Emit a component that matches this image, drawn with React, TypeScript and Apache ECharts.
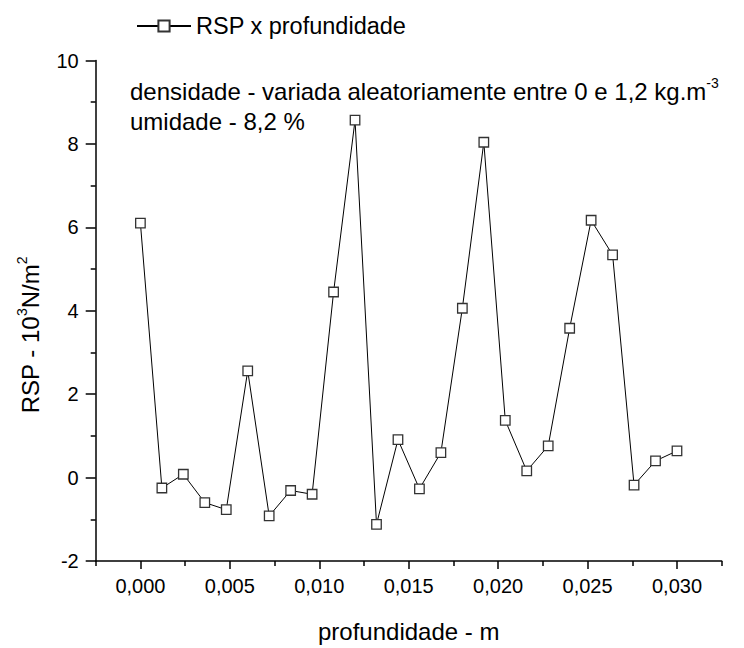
import React, { useEffect, useRef } from "react";
import * as echarts from "echarts";

// Depth (m) and RSP (10^3 N/m^2) readings
const depth = [
  0.0, 0.0012, 0.0024, 0.0036, 0.0048, 0.006, 0.0072, 0.0084, 0.0096, 0.0108,
  0.012, 0.0132, 0.0144, 0.0156, 0.0168, 0.018, 0.0192, 0.0204, 0.0216, 0.0228,
  0.024, 0.0252, 0.0264, 0.0276, 0.0288, 0.03,
];
const rsp = [
  6.1, -0.25, 0.08, -0.6, -0.77, 2.56, -0.92, -0.31, -0.4, 4.45,
  8.57, -1.12, 0.91, -0.27, 0.6, 4.06, 8.04, 1.37, 0.16, 0.76,
  3.58, 6.17, 5.34, -0.18, 0.4, 0.64,
];

const seriesName = "RSP x profundidade";
const xTitle = "profundidade - m";
const noteDensity = "densidade - variada aleatoriamente entre 0 e 1,2 kg.m";
const noteDensityExp = "-3";
const noteHumidity = "umidade - 8,2 %";

// Axis ticks
const xMajorTicks = [0, 0.005, 0.01, 0.015, 0.02, 0.025, 0.03];
const xMinorTicks = [-0.0025, 0.0025, 0.0075, 0.0125, 0.0175, 0.0225, 0.0275, 0.0325];
const xMin = -0.0025;
const xMax = 0.0325;
const yMin = -2;
const yMax = 10;
const yStep = 2;

const FONT = "'Liberation Sans', Arial, Helvetica, sans-serif";

export default function App() {
  const ref = useRef<HTMLDivElement>(null);

  useEffect(() => {
    if (!ref.current) return;
    const chart = echarts.init(ref.current, undefined, { renderer: "svg" });

    const grid = { left: 95.7, right: 22.3, top: 60.5, bottom: 75.7 };
    const axisLine = { show: true, onZero: false, lineStyle: { color: "#000", width: 1.5 } };
    const tickLine = { color: "#000", width: 1.5 };

    chart.setOption({
      animation: false,
      backgroundColor: "#fff",
      textStyle: { fontFamily: FONT },
      grid,
      legend: {
        data: [seriesName],
        left: 131,
        top: 9,
        itemWidth: 54,
        itemHeight: 14,
        textStyle: { fontSize: 23.5, color: "#000", fontFamily: FONT },
      },
      xAxis: [
        {
          type: "value",
          position: "bottom",
          min: xMin,
          max: xMax,
          axisLine,
          splitLine: { show: false },
          axisTick: { show: true, length: 8, customValues: xMajorTicks, lineStyle: tickLine },
          axisLabel: {
            customValues: xMajorTicks,
            margin: 15,
            fontSize: 20,
            color: "#000",
            fontFamily: FONT,
            formatter: (v: number) => v.toFixed(3).replace(".", ","),
          },
          name: xTitle,
          nameLocation: "middle",
          nameGap: 58,
          nameTextStyle: { fontSize: 24, color: "#000", fontFamily: FONT },
        },
        {
          // minor ticks halfway between labelled ticks
          type: "value",
          position: "bottom",
          min: xMin,
          max: xMax,
          axisLine: { show: false, onZero: false },
          splitLine: { show: false },
          axisTick: { show: true, length: 5, customValues: xMinorTicks, lineStyle: tickLine },
          axisLabel: { show: false },
        },
      ],
      yAxis: {
        type: "value",
        min: yMin,
        max: yMax,
        interval: yStep,
        axisLine,
        splitLine: { show: false },
        axisTick: { show: true, length: 10, lineStyle: tickLine },
        minorTick: { show: true, splitNumber: 2, length: 5, lineStyle: tickLine },
        axisLabel: { margin: 17, fontSize: 20, color: "#000", fontFamily: FONT },
      },
      graphic: [
        {
          type: "text",
          left: 130,
          top: 76,
          style: {
            text: `{t|${noteDensity}}{s|${noteDensityExp}}`,
            rich: {
              t: { fontSize: 24, fontFamily: FONT, fill: "#000", lineHeight: 30 },
              s: { fontSize: 14, fontFamily: FONT, fill: "#000", verticalAlign: "top", lineHeight: 14 },
            },
          },
        },
        {
          type: "text",
          left: 130,
          top: 109,
          style: { text: noteHumidity, fontSize: 24, fontFamily: FONT, fill: "#000" },
        },
        {
          type: "text",
          x: 30,
          y: 335,
          rotation: Math.PI / 2,
          style: {
            text: "{t|RSP - 10}{s|3}{t|N/m}{s|2}",
            align: "center",
            verticalAlign: "middle",
            rich: {
              t: { fontSize: 24, fontFamily: FONT, fill: "#000", lineHeight: 30 },
              s: { fontSize: 14, fontFamily: FONT, fill: "#000", verticalAlign: "top", lineHeight: 14 },
            },
          },
        },
      ],
      series: [
        {
          name: seriesName,
          type: "line",
          xAxisIndex: 0,
          data: depth.map((d, i) => [d, rsp[i]]),
          symbol: "rect",
          symbolSize: 9.5,
          showAllSymbol: true,
          lineStyle: { color: "#000", width: 1 },
          itemStyle: { color: "#fff", borderColor: "#333", borderWidth: 1.3 },
          emphasis: { disabled: true },
        },
      ],
    });

    return () => chart.dispose();
  }, []);

  return <div ref={ref} style={{ width: 744, height: 648, position: "absolute", left: 0, top: 0 }} />;
}
